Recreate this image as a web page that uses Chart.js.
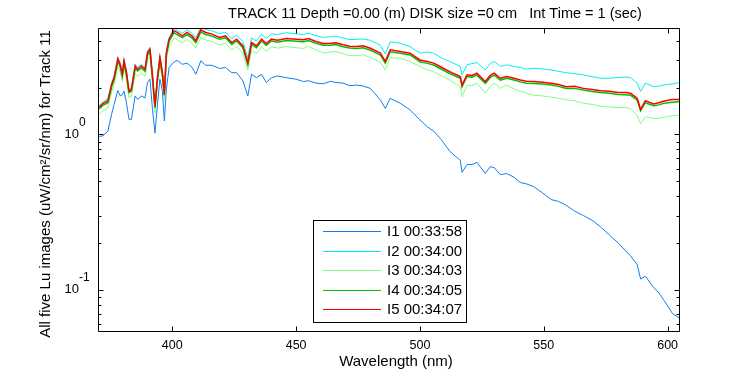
<!DOCTYPE html>
<html>
<head>
<meta charset="utf-8">
<script src="https://cdn.jsdelivr.net/npm/chart.js@4.4.1/dist/chart.umd.min.js"></script>
<style>
  html, body { margin: 0; padding: 0; background: #fff; }
</style>
</head>
<body>
<canvas id="lu" width="750" height="375"></canvas>
<script>
// wavelength grid (nm) shared by all five spectra
const wavelengths = [370.5, 372, 374, 375.5, 376.5, 378, 379, 379.8, 380.5, 381.5, 382.5, 383.5, 385, 386, 387.5, 389, 390, 391, 392, 393, 394, 395, 396, 396.8, 397.6, 398.7, 400.7, 402, 404, 406, 408, 409.5, 411.5, 413.5, 416, 419, 421.5, 424, 426, 428.5, 430.5, 432, 434, 436, 438, 440, 442.5, 446, 450, 453,
  455, 458, 461, 464, 466, 469, 471.5, 474.5, 477, 480, 484, 486, 488, 492, 496, 500, 503, 505.5, 508.5, 512, 516.3, 517, 519, 521, 523, 526.4, 528.4, 530, 532.5, 535, 538, 540.5, 543, 546, 549.5, 553, 556, 559, 562.5, 566, 569.5, 573, 576.5, 580, 583, 585, 587.7, 589.1, 591, 594.4, 596.5, 598.6, 602, 605];

const lu1 = [0.97, 0.98, 1.05, 1.35, 1.56, 1.92, 1.77, 1.80, 1.90, 1.60, 1.25, 1.25, 1.77, 1.68, 1.77, 1.72, 2.16, 2.27, 1.45, 1.02, 1.55, 2.27, 1.90, 1.22, 1.95, 2.70, 2.93, 3.00, 2.83, 2.88, 2.70, 2.44, 2.98, 2.79, 2.79, 2.66, 2.70, 2.50, 2.50, 2.21, 1.77, 2.44, 2.32, 2.44, 2.16, 2.32, 2.38, 2.32, 2.27, 2.19,
  2.22, 2.14, 2.12, 2.20, 2.16, 2.14, 2.06, 2.08, 2.05, 1.98, 1.67, 1.47, 1.71, 1.59, 1.44, 1.24, 1.12, 1.05, 0.93, 0.78, 0.68, 0.57, 0.64, 0.64, 0.66, 0.56, 0.62, 0.61, 0.55, 0.56, 0.53, 0.49, 0.48, 0.46, 0.42, 0.38, 0.37, 0.35, 0.32, 0.30, 0.28, 0.253, 0.225, 0.20, 0.178, 0.165, 0.145, 0.117, 0.122, 0.103, 0.095, 0.085, 0.070, 0.065];

const lu2 = [1.53, 1.62, 1.70, 2.15, 2.38, 3.15, 2.88, 2.50, 3.06, 2.57, 1.95, 2.00, 2.84, 2.70, 2.84, 2.70, 3.46, 3.64, 2.44, 1.55, 2.38, 3.22, 2.57, 1.85, 3.46, 4.23, 4.82, 4.70, 4.48, 4.72, 4.48, 4.18, 4.92, 4.75, 4.65, 4.45, 4.56, 4.14, 4.36, 3.96, 3.10, 4.18, 4.00, 4.42, 4.15, 4.44, 4.40, 4.52, 4.45, 4.40,
  4.50, 4.32, 4.22, 4.26, 4.30, 4.18, 4.08, 4.10, 4.12, 4.04, 3.76, 3.30, 3.95, 3.87, 3.68, 3.34, 3.40, 3.34, 3.12, 2.95, 2.74, 2.42, 2.81, 2.86, 2.90, 2.60, 2.86, 2.95, 2.74, 2.81, 2.74, 2.70, 2.64, 2.67, 2.64, 2.60, 2.55, 2.50, 2.46, 2.42, 2.36, 2.30, 2.30, 2.33, 2.34, 2.33, 2.14, 1.89, 2.14, 2.03, 2.05, 2.08, 2.12, 2.16];

const lu3 = [1.35, 1.42, 1.48, 1.88, 2.08, 2.75, 2.52, 2.20, 2.68, 2.25, 1.72, 1.76, 2.48, 2.37, 2.48, 2.37, 3.02, 3.18, 2.15, 1.38, 2.10, 2.80, 2.25, 1.65, 3.02, 3.70, 4.18, 4.08, 3.88, 4.08, 3.86, 3.60, 4.22, 4.06, 3.96, 3.78, 3.86, 3.50, 3.68, 3.32, 2.60, 3.48, 3.32, 3.66, 3.43, 3.66, 3.60, 3.68, 3.62, 3.58,
  3.70, 3.50, 3.35, 3.40, 3.42, 3.31, 3.22, 3.22, 3.26, 3.13, 2.92, 2.60, 3.12, 3.10, 2.95, 2.74, 2.60, 2.54, 2.40, 2.24, 2.03, 1.75, 2.08, 2.06, 2.14, 1.84, 2.05, 2.14, 1.98, 2.08, 1.96, 1.90, 1.84, 1.79, 1.77, 1.74, 1.71, 1.67, 1.65, 1.59, 1.56, 1.52, 1.50, 1.49, 1.49, 1.47, 1.33, 1.17, 1.30, 1.27, 1.27, 1.29, 1.32, 1.33];

const lu4 = [1.46, 1.54, 1.60, 2.02, 2.25, 2.95, 2.72, 2.38, 2.88, 2.42, 1.86, 1.90, 2.66, 2.56, 2.68, 2.55, 3.25, 3.42, 2.30, 1.48, 2.25, 3.02, 2.42, 1.78, 3.25, 3.98, 4.52, 4.40, 4.20, 4.40, 4.18, 3.90, 4.58, 4.40, 4.30, 4.10, 4.20, 3.80, 4.00, 3.62, 2.82, 3.80, 3.62, 4.00, 3.75, 4.00, 3.93, 4.03, 3.98, 3.95,
  4.03, 3.86, 3.75, 3.76, 3.79, 3.67, 3.60, 3.58, 3.62, 3.49, 3.25, 2.88, 3.41, 3.33, 3.25, 2.94, 2.87, 2.80, 2.64, 2.47, 2.30, 2.03, 2.36, 2.34, 2.41, 2.13, 2.33, 2.41, 2.24, 2.30, 2.24, 2.18, 2.14, 2.13, 2.11, 2.08, 2.04, 1.98, 1.98, 1.93, 1.89, 1.86, 1.84, 1.81, 1.80, 1.79, 1.66, 1.42, 1.60, 1.53, 1.55, 1.59, 1.61, 1.63];

const lu5 = [1.50, 1.58, 1.65, 2.10, 2.32, 3.08, 2.80, 2.44, 2.98, 2.50, 1.90, 1.95, 2.76, 2.63, 2.76, 2.63, 3.37, 3.54, 2.38, 1.52, 2.32, 3.13, 2.50, 1.81, 3.37, 4.11, 4.66, 4.54, 4.32, 4.54, 4.30, 4.01, 4.72, 4.54, 4.43, 4.22, 4.32, 3.91, 4.11, 3.72, 2.90, 3.91, 3.72, 4.11, 3.85, 4.11, 4.05, 4.15, 4.10, 4.07,
  4.15, 3.97, 3.85, 3.87, 3.90, 3.78, 3.70, 3.68, 3.72, 3.59, 3.34, 2.95, 3.51, 3.42, 3.34, 3.02, 2.95, 2.88, 2.72, 2.54, 2.36, 2.08, 2.42, 2.40, 2.48, 2.19, 2.40, 2.48, 2.30, 2.36, 2.30, 2.24, 2.20, 2.19, 2.17, 2.14, 2.10, 2.03, 2.04, 1.98, 1.95, 1.91, 1.90, 1.86, 1.86, 1.84, 1.71, 1.45, 1.65, 1.57, 1.60, 1.64, 1.68, 1.68];

const seriesLabels = ["I1 00:33:58", "I2 00:34:00", "I3 00:34:03", "I4 00:34:05", "I5 00:34:07"];
const seriesColors = ["#0f7ff0", "#00f0f0", "#80ff80", "#00c000", "#ff0000"];
const seriesWidths = [1, 1, 1, 1.5, 1.5];

const xTicks = [400, 450, 500, 550, 600];
const yMajorTicks = [0.1, 1];
const yMajorExp = ["-1", "0"];
const yMinorTicks = [0.06, 0.07, 0.08, 0.09, 0.2, 0.3, 0.4, 0.5, 0.6, 0.7, 0.8, 0.9, 2, 3, 4];

const titleText = "TRACK 11 Depth =0.00 (m) DISK size =0 cm   Int Time = 1 (sec)";
const xLabel = "Wavelength (nm)";
const yLabel = "All five Lu images (uW/cm\u00b2/sr/nm) for Track 11";

const FONT = "'Liberation Sans', Arial, sans-serif";

const series = [lu1, lu2, lu3, lu4, lu5];

// matlab style box, inward ticks, labels and legend
const matlabAxes = {
  id: "matlabAxes",
  afterDraw(chart) {
    const ctx = chart.ctx;
    const a = chart.chartArea;
    const xs = chart.scales.x;
    const ys = chart.scales.y;
    const L = a.left + 0.5, R = a.right - 0.5, T = a.top + 0.5, B = a.bottom - 0.5;
    ctx.save();
    ctx.strokeStyle = "#000";
    ctx.lineWidth = 1;
    ctx.beginPath();
    ctx.rect(L, T, R - L, B - T);
    xTicks.forEach(v => {
      const px = Math.round(xs.getPixelForValue(v)) + 0.5;
      ctx.moveTo(px, B); ctx.lineTo(px, B - 5);
      ctx.moveTo(px, T); ctx.lineTo(px, T + 5);
    });
    yMajorTicks.forEach(v => {
      const py = Math.round(ys.getPixelForValue(v)) + 0.5;
      ctx.moveTo(L, py); ctx.lineTo(L + 5, py);
      ctx.moveTo(R, py); ctx.lineTo(R - 5, py);
    });
    yMinorTicks.forEach(v => {
      const py = Math.round(ys.getPixelForValue(v)) + 0.5;
      ctx.moveTo(L, py); ctx.lineTo(L + 3, py);
      ctx.moveTo(R, py); ctx.lineTo(R - 3, py);
    });
    ctx.stroke();

    ctx.fillStyle = "#000";
    ctx.font = "12.5px " + FONT;
    ctx.textAlign = "center";
    ctx.textBaseline = "middle";
    xTicks.forEach(v => {
      ctx.fillText(String(v), xs.getPixelForValue(v), a.bottom + 14);
    });
    yMajorTicks.forEach((v, k) => {
      const py = ys.getPixelForValue(v);
      ctx.font = "13px " + FONT;
      ctx.textAlign = "right";
      ctx.fillText("10", a.left - 19, py);
      ctx.font = "12px " + FONT;
      ctx.textAlign = "left";
      ctx.fillText(yMajorExp[k], a.left - 19, py - 12);
    });

    ctx.font = "14.5px " + FONT;
    ctx.textAlign = "center";
    ctx.fillText(titleText, 435, 14);
    ctx.font = "15px " + FONT;
    ctx.fillText(xLabel, 396, a.bottom + 30);
    ctx.save();
    ctx.translate(46, 184);
    ctx.rotate(-Math.PI / 2);
    ctx.fillText(yLabel, 0, 0);
    ctx.restore();

    // legend box
    const bx = 313.5, by = 220.5, bw = 153, bh = 102;
    ctx.fillStyle = "#fff";
    ctx.fillRect(bx, by, bw, bh);
    ctx.strokeStyle = "#000";
    ctx.strokeRect(bx, by, bw, bh);
    ctx.font = "15px " + FONT;
    ctx.textAlign = "left";
    chart.data.datasets.forEach((ds, k) => {
      const ry = Math.round(231 + k * 19.6) + 0.5;
      ctx.strokeStyle = ds.borderColor;
      ctx.lineWidth = 1;
      ctx.beginPath();
      ctx.moveTo(323, ry); ctx.lineTo(381, ry);
      ctx.stroke();
      ctx.fillStyle = "#000";
      ctx.fillText(ds.label, 387, ry);
    });
    ctx.restore();
  }
};

new Chart(document.getElementById("lu"), {
  type: "line",
  data: {
    datasets: series.map((vals, k) => ({
      label: seriesLabels[k],
      data: wavelengths.map((w, j) => ({ x: w, y: vals[j] })),
      borderColor: seriesColors[k],
      borderWidth: seriesWidths[k],
      pointRadius: 0,
      tension: 0,
      fill: false,
      order: 5 - k,
    })),
  },
  options: {
    responsive: false,
    animation: false,
    layout: { padding: { left: 98, right: 70, top: 28, bottom: 43 } },
    plugins: {
      legend: { display: false },
      tooltip: { enabled: false },
      title: { display: false },
    },
    scales: {
      x: { type: "linear", min: 370, max: 605, display: false },
      y: { type: "logarithmic", min: 0.0533, max: 4.85, display: false },
    },
  },
  plugins: [matlabAxes],
});
</script>
</body>
</html>
